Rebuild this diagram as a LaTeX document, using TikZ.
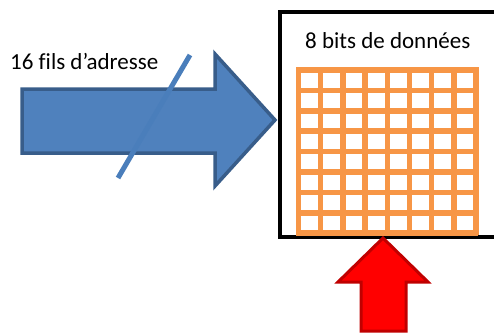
\documentclass[tikz,border=0pt]{standalone}
\usepackage{fontspec}
\setmainfont{Carlito}[Ligatures=NoCommon]
\usetikzlibrary{positioning}
\definecolor{bleu}{RGB}{79,129,189}
\definecolor{bleufonce}{RGB}{56,93,138}
\definecolor{barre}{RGB}{74,126,187}
\definecolor{orange}{RGB}{247,150,70}
\definecolor{rougefonce}{RGB}{192,0,0}
\tikzset{
  %Define style for the big arrows
  fleche/.style={
    line width=3.5pt,
    line join=miter},
  %Define style for the memory box
  boite/.style={
    draw=black,
    line width=4pt},
  % Define style for the grid of cells
  grille/.style={
    draw=orange,
    line width=5.5pt},
  % Define style for the labels
  texte/.style={
    font=\fontsize{23}{27}\selectfont,
    inner sep=0pt}
}

\begin{document}
\begin{tikzpicture}[x=1pt,y=-1pt]
  \useasboundingbox (0,0) rectangle (494,335);
  % address bus arrow
  \draw[fleche, fill=bleu, draw=bleufonce]
    (22,89) -- (215,89) -- (215,54) -- (275,120) -- (215,186)
    -- (215,153) -- (22,153) -- cycle;
  \draw[barre, line width=5pt] (190,55) -- (118,178);
  \node[texte, anchor=base west] (adresse) at (10,69) {16 fils d’adresse};
  % memory box, open on the right
  \draw[boite] (494,12) -- (280,12) -- (280,237) -- (494,237);
  \node[texte, anchor=base west] (donnees) at (305,48) {8 bits de données};
  % 8 x 8 cells
  \fill[white] (298,69) rectangle (476,233);
  \foreach \i in {0,...,8} {
    \draw[grille] ({298.5+22.2*\i},67) -- ({298.5+22.2*\i},235);
    \draw[grille] (296,{70+20.4*\i}) -- (478,{70+20.4*\i});
  }
  % data arrow from below
  \draw[fleche, line width=3pt, fill=red, draw=rougefonce]
    (383,238) -- (428,282) -- (406,282) -- (406,331)
    -- (361,331) -- (361,282) -- (338,282) -- cycle;
\end{tikzpicture}
\end{document}
